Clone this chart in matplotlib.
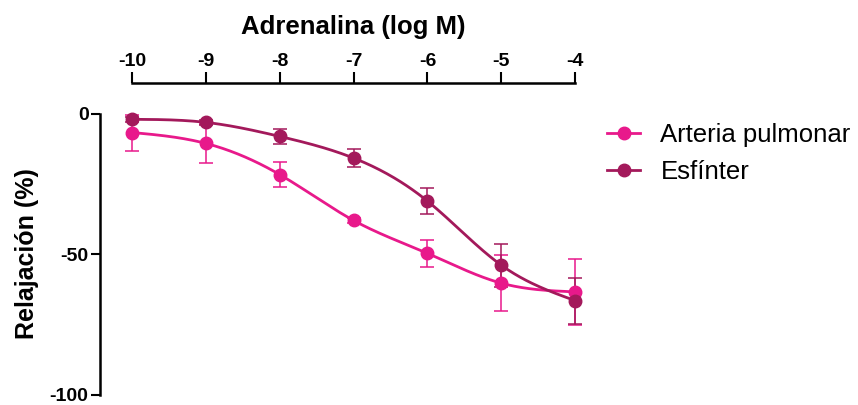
import numpy as np

import matplotlib
matplotlib.use("Agg")
import matplotlib.pyplot as plt


LOG_CONC = [-10, -9, -8, -7, -6, -5, -4]
X_TICKS = [-10, -9, -8, -7, -6, -5, -4]
Y_TICKS = [0, -50, -100]

ARTERIA_MEAN = [-6.6, -10.5, -21.6, -37.9, -49.6, -60.2, -63.3]
ARTERIA_SEM = [6.4, 7.0, 4.5, 1.0, 4.7, 10.0, 11.7]
ESFINTER_MEAN = [-1.9, -3.0, -8.0, -15.7, -31.0, -53.8, -66.4]
ESFINTER_SEM = [0.8, 0.8, 2.7, 3.1, 4.7, 7.7, 8.2]

PINK = "#E8198B"
DARK = "#A3195B"

plt.rcParams["font.family"] = ["Liberation Sans", "DejaVu Sans"]


def natural_spline(x, y, n=300):
    # smooth connecting line through the points (natural cubic spline)
    x = np.asarray(x, dtype=float)
    y = np.asarray(y, dtype=float)
    k = len(x)
    h = np.diff(x)
    A = np.zeros((k, k))
    b = np.zeros(k)
    A[0, 0] = 1.0
    A[-1, -1] = 1.0
    for i in range(1, k - 1):
        A[i, i - 1] = h[i - 1]
        A[i, i] = 2 * (h[i - 1] + h[i])
        A[i, i + 1] = h[i]
        b[i] = 6 * ((y[i + 1] - y[i]) / h[i] - (y[i] - y[i - 1]) / h[i - 1])
    m = np.linalg.solve(A, b)

    xs = np.linspace(x[0], x[-1], n)
    ys = np.empty_like(xs)
    for j, xv in enumerate(xs):
        i = min(np.searchsorted(x, xv, side="right") - 1, k - 2)
        t0 = x[i + 1] - xv
        t1 = xv - x[i]
        ys[j] = (
            m[i] * t0 ** 3 / (6 * h[i])
            + m[i + 1] * t1 ** 3 / (6 * h[i])
            + (y[i] / h[i] - m[i] * h[i] / 6) * t0
            + (y[i + 1] / h[i] - m[i + 1] * h[i] / 6) * t1
        )
    return xs, ys


def draw_series(ax, mean, sem, color, label):
    xs, ys = natural_spline(LOG_CONC, mean)
    ax.plot(xs, ys, color=color, lw=2.0, clip_on=False, zorder=3)
    ax.errorbar(
        LOG_CONC,
        mean,
        yerr=sem,
        fmt="none",
        ecolor=color,
        elinewidth=1.1,
        capsize=4.7,
        capthick=1.1,
        clip_on=False,
        zorder=2,
    )
    ax.plot(
        LOG_CONC,
        mean,
        "o",
        color=color,
        ms=9,
        clip_on=False,
        zorder=4,
    )
    # handle for the legend: line with marker
    return ax.plot([], [], "-o", color=color, lw=2.0, ms=9, label=label)[0]


fig = plt.figure(figsize=(8.58, 4.05), dpi=100)
ax = fig.add_axes([0.1542, 0.0247, 0.516, 0.6939])

h1 = draw_series(ax, ARTERIA_MEAN, ARTERIA_SEM, PINK, "Arteria pulmonar")
h2 = draw_series(ax, ESFINTER_MEAN, ESFINTER_SEM, DARK, "Esfínter")

ax.set_xlim(-10, -4)
ax.set_ylim(-100, 0)

# x axis on top, floating above the data
ax.xaxis.tick_top()
ax.xaxis.set_label_position("top")
ax.spines["bottom"].set_visible(False)
ax.spines["right"].set_visible(False)
ax.spines["top"].set_position(("outward", 22.5))
ax.spines["left"].set_position(("outward", 23))
for side in ["top", "left"]:
    ax.spines[side].set_linewidth(1.8)

ax.set_xticks(X_TICKS)
ax.set_xticklabels([str(t) for t in X_TICKS], fontsize=14, fontweight="bold")
ax.set_yticks(Y_TICKS)
ax.set_yticklabels([str(t) for t in Y_TICKS], fontsize=14, fontweight="bold")
ax.tick_params(axis="x", direction="out", length=8, width=1.5, pad=1)
ax.tick_params(axis="y", direction="out", length=6.5, width=1.5, pad=2)

ax.set_xlabel("Adrenalina (log M)", fontsize=18.5, fontweight="bold")
ax.xaxis.set_label_coords(0.5, 1.31)
ax.xaxis.label.set_va("center")

ax.set_ylabel("Relajación (%)", fontsize=18, fontweight="bold")
ax.yaxis.set_label_coords(-0.238, 0.505)
ax.yaxis.label.set_va("center")

fig.legend(
    handles=[h1, h2],
    loc="center left",
    bbox_to_anchor=(0.7075, 0.621),
    frameon=False,
    fontsize=18.5,
    handlelength=1.3,
    handletextpad=0.78,
    labelspacing=0.5,
    borderpad=0,
    borderaxespad=0,
)

fig.savefig("out.png", dpi=100)
plt.close(fig)
